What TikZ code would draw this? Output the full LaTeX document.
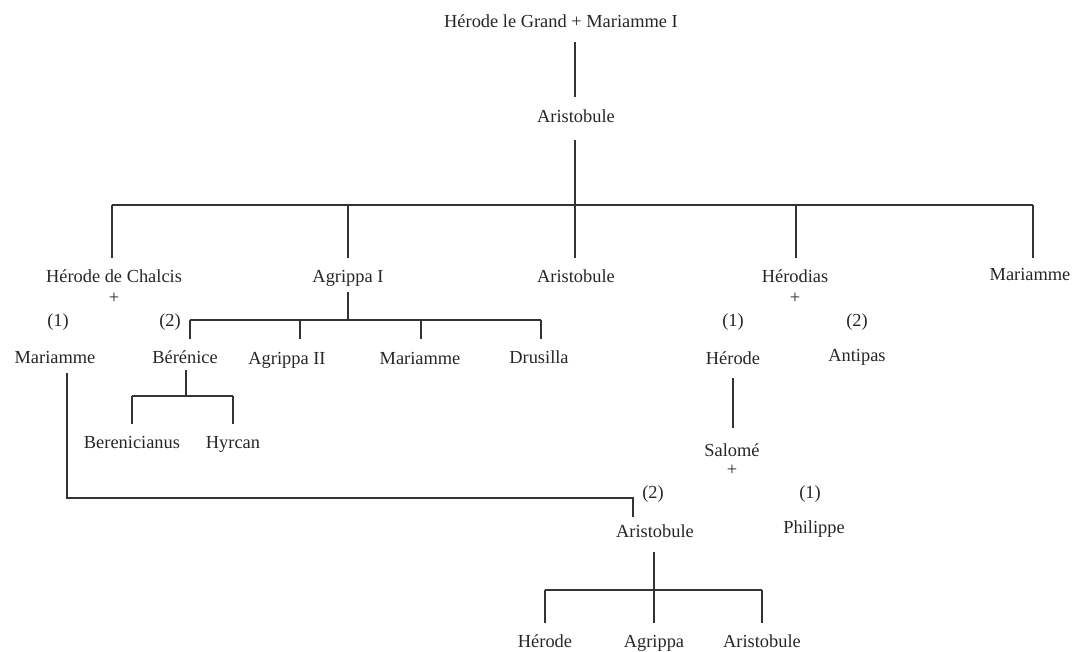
\documentclass[tikz,border=0pt]{standalone}
\usepackage{fontspec}
\setmainfont{Liberation Serif}
\begin{document}
\begin{tikzpicture}[x=1pt,y=-1pt,
  lbl/.style={inner sep=0pt,anchor=base,font=\fontsize{18.4}{22}\selectfont,text=black!85},
  sym/.style={lbl,anchor=center},
  ln/.style={draw=black!80,line width=1.2pt}]
\useasboundingbox (0,0) rectangle (1075,651);
% nodes
\node[lbl] (top) at (561,27) {Hérode le Grand + Mariamme I};
\node[lbl] (aris) at (576,122) {Aristobule};
\node[lbl] (hch) at (114,282) {Hérode de Chalcis};
\node[sym] (hchp) at (114,298) {+};
\node[lbl] (agr) at (348,282) {Agrippa I};
\node[lbl] (aris2) at (576,282) {Aristobule};
\node[lbl] (hdias) at (795,282) {Hérodias};
\node[sym] (hdiasp) at (795,298) {+};
\node[lbl] (mar1) at (1030,280) {Mariamme};
\node[sym] (n1a) at (58,322) {(1)};
\node[sym] (n2a) at (170,322) {(2)};
\node[sym] (n1b) at (733,322) {(1)};
\node[sym] (n2b) at (857,322) {(2)};
\node[lbl] (mar2) at (55,363) {Mariamme};
\node[lbl] (ber) at (185,363) {Bérénice};
\node[lbl] (agr2) at (287,364) {Agrippa II};
\node[lbl] (mar3) at (420,364) {Mariamme};
\node[lbl] (dru) at (539,363) {Drusilla};
\node[lbl] (her) at (733,364) {Hérode};
\node[lbl] (ant) at (857,361) {Antipas};
\node[lbl] (beren) at (132,448) {Berenicianus};
\node[lbl] (hyr) at (233,448) {Hyrcan};
\node[lbl] (sal) at (732,456) {Salomé};
\node[sym] (salp) at (732,470) {+};
\node[sym] (n2c) at (653,494) {(2)};
\node[sym] (n1c) at (810,494) {(1)};
\node[lbl] (aris3) at (655,537) {Aristobule};
\node[lbl] (phi) at (814,533) {Philippe};
\node[lbl] (her2) at (545,647) {Hérode};
\node[lbl] (agr3) at (654,647) {Agrippa};
\node[lbl] (aris4) at (762,647) {Aristobule};
% junction coordinates
\coordinate (t1) at (575,42);
\coordinate (t2) at (575,97);
\coordinate (a1) at (575,140);
\coordinate (a2) at (575,205);
\coordinate (bL) at (112,205);
\coordinate (bR) at (1033,205);
\coordinate (g1) at (348,292);
\coordinate (g2) at (348,320);
\coordinate (gL) at (190,320);
\coordinate (gR) at (541,320);
\coordinate (e1) at (186,370);
\coordinate (e2) at (186,396);
\coordinate (eL) at (132,396);
\coordinate (eR) at (233,396);
\coordinate (h1) at (733,378);
\coordinate (h2) at (733,428);
\coordinate (m1) at (67,373);
\coordinate (m2) at (67,498);
\coordinate (m3) at (633,498);
\coordinate (m4) at (633,517);
\coordinate (r1) at (654,552);
\coordinate (r2) at (654,590);
\coordinate (rL) at (545,590);
\coordinate (rR) at (762,590);
% connectors
\draw[ln] (t1) -- (t2);
\draw[ln] (a1) -- (a2);
\draw[ln] (bL) -- (bR);
\foreach \x in {112,348,575,796,1033} \draw[ln] (\x,205) -- (\x,258);
\draw[ln] (g1) -- (g2);
\draw[ln] (gL) -- (gR);
\foreach \x in {190,300,421,541} \draw[ln] (\x,320) -- (\x,339);
\draw[ln] (e1) -- (e2);
\draw[ln] (eL) -- (eR);
\foreach \x in {132,233} \draw[ln] (\x,396) -- (\x,424);
\draw[ln] (h1) -- (h2);
\draw[ln] (m1) -- (m2) -- (m3) -- (m4);
\draw[ln] (r1) -- (r2);
\draw[ln] (rL) -- (rR);
\foreach \x in {545,654,762} \draw[ln] (\x,590) -- (\x,623);
\end{tikzpicture}
\end{document}
